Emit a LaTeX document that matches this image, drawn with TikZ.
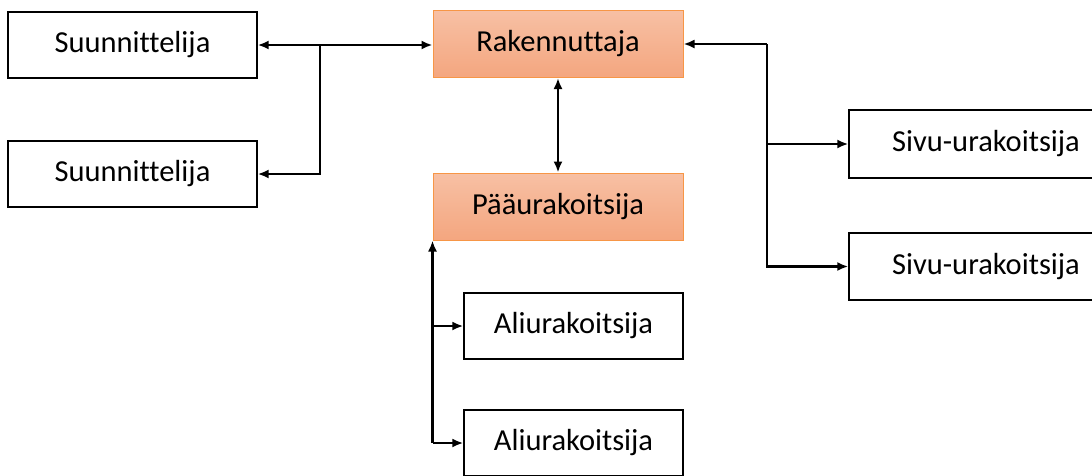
\documentclass[tikz,border=0pt]{standalone}
\usepackage{fontspec}
\setmainfont{Carlito}[Ligatures=NoCommon]
\usetikzlibrary{positioning,arrows.meta}

\begin{document}
\begin{tikzpicture}[
x=1pt,y=-1pt,
party/.style={
  draw=black,
  line width=1.3pt,
  fill=white,
  inner sep=0pt,
  minimum height=66pt,
  font=\fontsize{30.5}{36}\selectfont
  },
mainparty/.style={
  party,
  draw={rgb,255:red,247;green,150;blue,70},
  line width=1pt,
  top color={rgb,255:red,247;green,192;blue,164},
  bottom color={rgb,255:red,244;green,166;blue,127},
  minimum width=250pt,
  minimum height=67pt
  },
link/.style={
  line width=2.2pt
  },
>={Latex[length=11pt,width=9pt]}
]
\useasboundingbox (0,0) rectangle (1092,475);

\node[party, minimum width=249pt] (sunn1) at (132.5,45) {Suunnittelija};
\node[party, minimum width=249pt] (sunn2) at (132.5,174) {Suunnittelija};
\node[mainparty] (rak) at (558,44) {Rakennuttaja};
\node[mainparty] (paa) at (558,206.5) {Pääurakoitsija};
\node[party, minimum width=274pt, minimum height=68pt] (sivu1) at (986,144) {Sivu-urakoitsija};
\node[party, minimum width=274pt, minimum height=67pt] (sivu2) at (986,266.5) {Sivu-urakoitsija};
\node[party, minimum width=219pt] (ali1) at (573.5,326) {Aliurakoitsija};
\node[party, minimum width=219pt] (ali2) at (573.5,443) {Aliurakoitsija};

% suunnittelijat
\coordinate (jsunn) at (320,45);
\draw[link,<->] (sunn1.east) -- (sunn1.east -| rak.west);
\draw[link,->] (jsunn) |- (sunn2.east);

% rakennuttaja - paaurakoitsija
\draw[link,<->] (rak.south) -- (paa.north);

% sivu-urakoitsijat
\coordinate (jsivu) at (767,44);
\draw[link,->] (jsivu) -- (rak.east);
\draw[link,->] (jsivu) |- (sivu1.west);
\draw[link,->] (jsivu) |- (sivu2.west);

% aliurakoitsijat
\draw[link,->] (paa.south west |- ali2.west) -- (paa.south west);
\draw[link,->] (paa.south west |- ali1.west) -- (ali1.west);
\draw[link,->] (paa.south west |- ali2.west) -- (ali2.west);

\end{tikzpicture}
\end{document}
